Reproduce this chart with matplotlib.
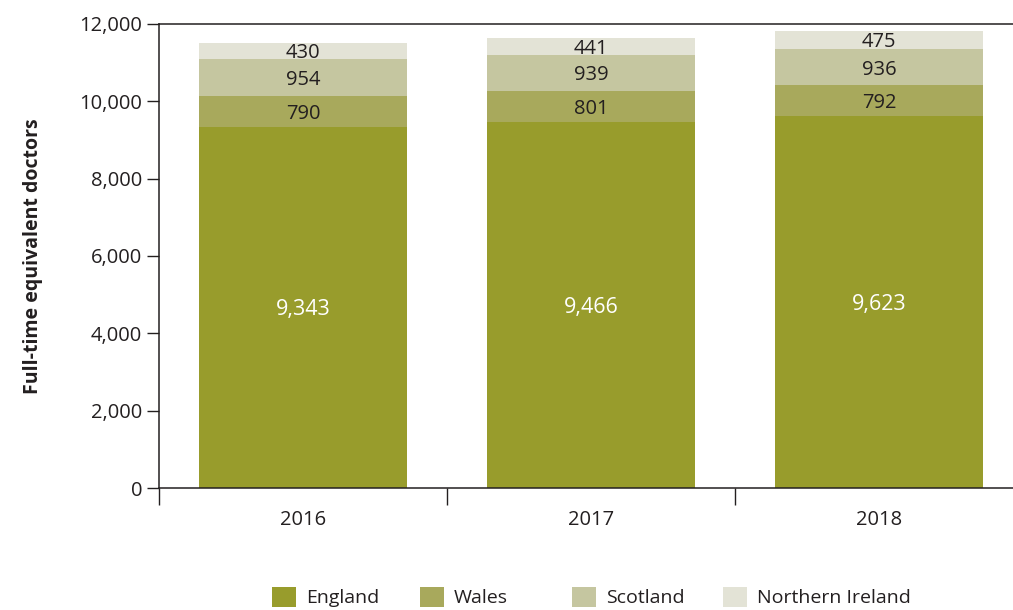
import matplotlib.pyplot as plt
from matplotlib.patches import Patch
from matplotlib.ticker import FuncFormatter
import numpy as np

plt.rcParams['font.family'] = ['Open Sans', 'DejaVu Sans']

years = ['2016', '2017', '2018']
england = [9343, 9466, 9623]
wales = [790, 801, 792]
scotland = [954, 939, 936]
northern_ireland = [430, 441, 475]

series = [england, wales, scotland, northern_ireland]
names = ['England', 'Wales', 'Scotland', 'Northern Ireland']
colors = ['#989c2c', '#a8a95c', '#c5c6a0', '#e3e3d6']
text_colors = ['white', '#231f20', '#231f20', '#231f20']
label_sizes = [15.5, 14.5, 14.5, 14.5]

fig = plt.figure(figsize=(10.13, 6.10), dpi=100)
ax = fig.add_axes([159 / 1013, 1 - 488 / 610, 1 - 159 / 1013, 464 / 610])

x = np.arange(len(years))
bottom = np.zeros(len(years))
for vals, c, tc, fs in zip(series, colors, text_colors, label_sizes):
    vals = np.array(vals)
    ax.bar(x, vals, width=0.72, bottom=bottom, color=c, linewidth=0)
    for xi, b, v in zip(x, bottom, vals):
        ax.text(xi, b + v / 2, f'{v:,}', ha='center', va='center_baseline',
                color=tc, fontsize=fs)
    bottom += vals

ax.set_xlim(-0.5, 2.465)
ax.set_ylim(0, 12000)
ax.set_yticks(range(0, 12001, 2000))
ax.yaxis.set_major_formatter(FuncFormatter(lambda v, p: f'{int(v):,}'))
ax.set_xticks([-0.5, 0.5, 1.5])
ax.set_xticklabels([])
ax.set_xticks(x, minor=True)
ax.set_xticklabels(years, minor=True)
ax.tick_params(axis='x', which='major', length=12, width=1, color='#231f20')
ax.tick_params(axis='x', which='minor', length=0, pad=16, labelsize=14.5,
               labelcolor='#231f20')
ax.tick_params(axis='y', length=9, width=1, color='#231f20', labelsize=14.5,
               labelcolor='#231f20', pad=3)

for s in ['left', 'bottom', 'top']:
    ax.spines[s].set_color('#231f20')
    ax.spines[s].set_linewidth(1.1)
ax.spines['right'].set_visible(False)

ax.set_ylabel('Full-time equivalent doctors', fontsize=14, fontweight='bold',
              color='#231f20', labelpad=26)

# one legend per entry so the columns sit at fixed spacing
starts = [272, 420, 572, 723]
for name, c, xs in zip(names, colors, starts):
    fig.legend(handles=[Patch(facecolor=c, edgecolor='none')], labels=[name],
               loc='center left', bbox_to_anchor=(xs / 1013, 1 - 597 / 610),
               frameon=False, fontsize=14, handlelength=1.25, handleheight=1.25,
               handletextpad=0.5, borderpad=0, borderaxespad=0,
               labelcolor='#231f20')

fig.savefig('out.png', dpi=100)
